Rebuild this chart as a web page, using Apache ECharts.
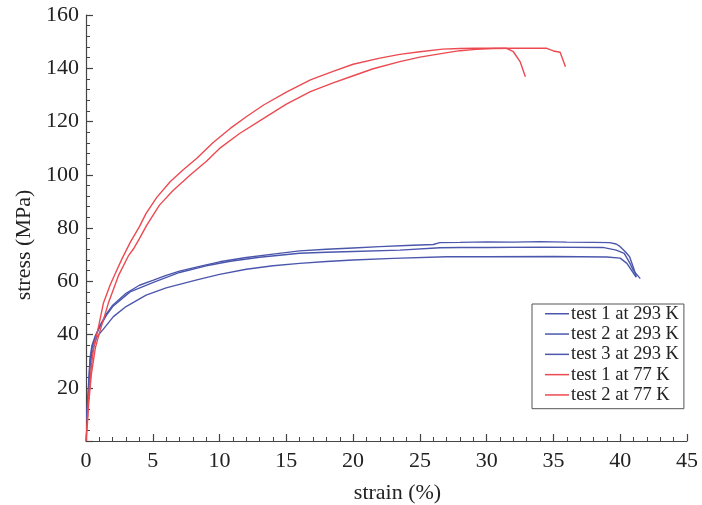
<!DOCTYPE html>
<html>
<head>
<meta charset="utf-8">
<script src="https://cdn.jsdelivr.net/npm/echarts@6/dist/echarts.min.js"></script>
<style>
  html, body { margin: 0; padding: 0; background: #fff; }
  #chart { width: 702px; height: 505px; }
</style>
</head>
<body>
<div id="chart"></div>
<script>
  // ==== data (strain %, stress MPa) ====
  const seriesNames = ['test 1 at 293 K', 'test 2 at 293 K', 'test 3 at 293 K', 'test 1 at 77 K', 'test 2 at 77 K']

  const warm1Strain = [0.05, 0.2, 0.3, 0.45, 0.7, 1.0, 1.5, 2.0, 3.0, 4.0, 5.0, 6.0, 7.0, 8.5, 10, 12, 14, 16, 18, 20, 22, 24, 26, 26.5, 28, 30, 32, 34, 36, 38, 39.2, 39.7, 40.0, 40.4, 40.7, 41.0, 41.2]
  const warm1Stress = [8, 20, 30, 35, 39, 43, 47.5, 51, 55.5, 58.5, 60.3, 62.2, 63.8, 65.6, 67.3, 68.9, 70.2, 71.4, 72.0, 72.5, 73.0, 73.4, 73.8, 74.5, 74.6, 74.8, 74.7, 74.9, 74.7, 74.6, 74.5, 74.0, 73.0, 71.0, 69.2, 65.0, 61.7]

  const warm2Strain = [0.05, 0.2, 0.3, 0.45, 0.7, 1.0, 1.5, 2.0, 3.3, 5.0, 7.0, 9.0, 10.8, 13, 16, 18, 20, 23.5, 26.5, 28, 30, 34, 38.7, 39.7, 40.3, 40.7, 41.0, 41.5]
  const warm2Stress = [9, 22, 31, 36, 39.5, 42.5, 47, 50.5, 56, 59.5, 63.3, 65.8, 67.5, 69, 70.5, 70.9, 71.2, 71.7, 72.6, 72.7, 72.7, 72.8, 72.7, 71.7, 70.5, 67.0, 64.0, 61.0]

  const warm3Strain = [0.05, 0.2, 0.3, 0.45, 0.8, 1.3, 2.05, 3.0, 4.5, 6.0, 8.3, 10, 12, 14, 16, 18, 20, 23, 27, 30, 35, 39, 40.0, 40.5, 41.0, 41.2]
  const warm3Stress = [8, 18, 28, 33, 39, 42, 46.7, 50.5, 54.8, 57.5, 60.5, 62.6, 64.5, 65.8, 66.7, 67.4, 68.0, 68.6, 69.2, 69.2, 69.3, 69.1, 68.7, 66.7, 63.0, 61.5]

  const cold1Strain = [0, 0.1, 0.2, 0.4, 0.6, 0.9, 1.3, 1.8, 2.2, 2.7, 3.3, 4.0, 4.5, 5.3, 6.3, 7.3, 8.3, 9.5, 10.8, 12, 13.3, 15, 16.8, 18.5, 20, 22, 23.5, 25, 26.7, 28, 29.2, 30.5, 31.5, 32.0, 32.5, 32.9]
  const cold1Stress = [0, 8, 17, 28, 36, 42, 51.7, 58.5, 63, 68.5, 74.5, 80.5, 85.5, 91.5, 97.4, 102, 106.2, 112, 117.4, 121.8, 126.2, 131, 135.6, 138.8, 141.5, 143.8, 145.2, 146.2, 147.2, 147.4, 147.5, 147.5, 147.5, 146.2, 142.5, 136.8]

  const cold2Strain = [0, 0.1, 0.2, 0.4, 0.7, 1.0, 1.67, 2.42, 3.17, 3.6, 4.0, 4.54, 5.5, 6.5, 7.8, 9, 10, 11.5, 13.3, 15, 16.8, 18.5, 19.8, 21.5, 23.5, 25, 26.7, 28, 29.2, 30.5, 32, 33.5, 34.5, 35.0, 35.5, 35.9]
  const cold2Stress = [0, 6, 14, 25, 35, 40.5, 51.7, 62, 69.5, 72.5, 76, 81, 88.6, 94, 99.9, 105, 109.9, 115.5, 121.2, 126.5, 131.2, 134.5, 136.8, 139.8, 142.5, 144.2, 145.6, 146.6, 147.1, 147.4, 147.5, 147.5, 147.5, 146.5, 146, 140.6]

  const xTicks = [0, 5, 10, 15, 20, 25, 30, 35, 40, 45]
  const yTicks = [20, 40, 60, 80, 100, 120, 140, 160]

  const BLUE = '#4b57ad'
  const RED = '#ec4a50'
  const FONT = '"Liberation Serif", "DejaVu Serif", serif'

  const zip = (xs, ys) => xs.map((x, i) => [x, ys[i]])

  const curves = [
    { data: zip(warm1Strain, warm1Stress), color: BLUE },
    { data: zip(warm2Strain, warm2Stress), color: BLUE },
    { data: zip(warm3Strain, warm3Stress), color: BLUE },
    { data: zip(cold1Strain, cold1Stress), color: RED },
    { data: zip(cold2Strain, cold2Stress), color: RED }
  ]

  const axisCommon = {
    axisLine: { show: true, lineStyle: { color: '#444', width: 1.2 } },
    axisTick: { show: true, inside: true, length: 7, lineStyle: { color: '#444', width: 1.2 } },
    minorTick: { show: true, splitNumber: 5, length: 4, lineStyle: { color: '#444', width: 1 } },
    splitLine: { show: false }
  }

  const chart = echarts.init(document.getElementById('chart'))
  chart.setOption({
    animation: false,
    backgroundColor: '#fff',
    grid: { left: 86, right: 15, top: 15, bottom: 64, outerBoundsMode: 'none', containLabel: false },
    legend: {
      orient: 'vertical',
      left: 532,
      top: 304,
      padding: [0, 5, 4, 13],
      borderColor: '#555',
      borderWidth: 1,
      icon: 'rect',
      itemWidth: 24,
      itemHeight: 1.5,
      itemGap: 0.8,
      textStyle: { fontFamily: FONT, fontSize: 18.5, lineHeight: 19.5, color: '#222', padding: [0, 0, 0, -3] },
      data: seriesNames
    },
    xAxis: {
      type: 'value',
      min: 0,
      max: 45,
      interval: 5,
      name: 'strain (%)',
      nameLocation: 'middle',
      nameGap: 41,
      nameTextStyle: { fontFamily: FONT, fontSize: 22, color: '#222', padding: [0, 0, 0, 22] },
      axisLabel: {
        fontFamily: FONT, fontSize: 22, color: '#222', margin: 9,
        formatter: (v) => (xTicks.includes(v) ? String(v) : '')
      },
      ...axisCommon
    },
    yAxis: {
      type: 'value',
      min: 0,
      max: 160,
      interval: 20,
      name: 'stress (MPa)',
      nameLocation: 'middle',
      nameGap: 50,
      nameTextStyle: { fontFamily: FONT, fontSize: 22, color: '#222', padding: [0, 34, 0, 0] },
      axisLabel: {
        fontFamily: FONT, fontSize: 22, color: '#222', margin: 7,
        formatter: (v) => (yTicks.includes(v) ? String(v) : '')
      },
      ...axisCommon
    },
    series: curves.map((c, i) => ({
      name: seriesNames[i],
      type: 'line',
      data: c.data,
      symbol: 'none',
      smooth: false,
      itemStyle: { color: c.color },
      lineStyle: { color: c.color, width: 1.4 }
    }))
  })
</script>
</body>
</html>
